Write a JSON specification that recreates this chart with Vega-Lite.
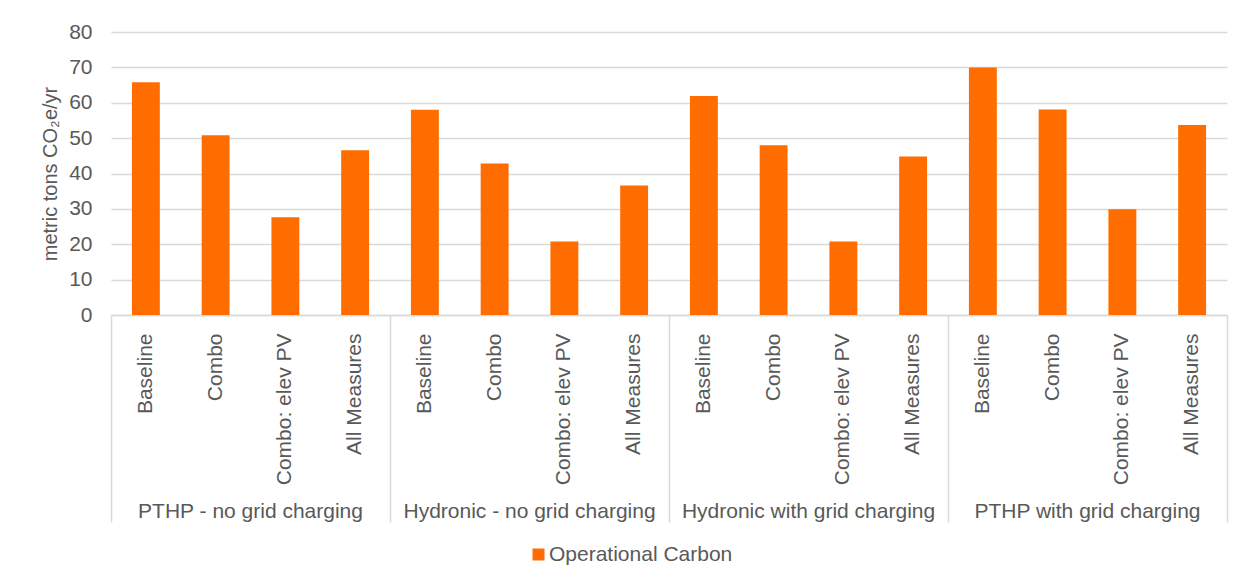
{
  "$schema": "https://vega.github.io/schema/vega-lite/v6.json",
  "width": 1116,
  "height": 283,
  "autosize": {"type": "none"},
  "padding": {"left": 111, "top": 32, "right": 22, "bottom": 269},
  "background": "white",
  "config": {
    "font": "Liberation Sans",
    "view": {"stroke": null},
    "axis": {"labelColor": "#595959", "titleColor": "#595959", "labelFontSize": 21, "labelFont": "Liberation Sans", "titleFont": "Liberation Sans", "titleFontWeight": "normal"},
    "legend": {"labelColor": "#595959", "labelFontSize": 21, "labelFont": "Liberation Sans"}
  },
  "data": {
    "values": [
      {"key": "PTHP - no grid charging|Baseline ", "value": 65.8},
      {"key": "PTHP - no grid charging|Combo", "value": 50.8},
      {"key": "PTHP - no grid charging|Combo: elev PV", "value": 27.6},
      {"key": "PTHP - no grid charging|All Measures", "value": 46.6},
      {"key": "Hydronic - no grid charging|Baseline ", "value": 58.0},
      {"key": "Hydronic - no grid charging|Combo", "value": 42.8},
      {"key": "Hydronic - no grid charging|Combo: elev PV", "value": 20.8},
      {"key": "Hydronic - no grid charging|All Measures", "value": 36.6},
      {"key": "Hydronic with grid charging|Baseline ", "value": 61.9},
      {"key": "Hydronic with grid charging|Combo", "value": 48.0},
      {"key": "Hydronic with grid charging|Combo: elev PV", "value": 20.8},
      {"key": "Hydronic with grid charging|All Measures", "value": 44.8},
      {"key": "PTHP with grid charging|Baseline ", "value": 70.0},
      {"key": "PTHP with grid charging|Combo", "value": 58.1},
      {"key": "PTHP with grid charging|Combo: elev PV", "value": 29.9},
      {"key": "PTHP with grid charging|All Measures", "value": 53.7}
    ]
  },
  "resolve": {"axis": {"x": "independent"}},
  "layer": [
    {
      "mark": {"type": "bar", "width": {"band": 0.4}, "color": "#FF6D00"},
      "encoding": {
        "x": {
          "field": "key", "type": "nominal", "sort": null,
          "scale": {"paddingInner": 0, "paddingOuter": 0},
          "axis": {
            "orient": "bottom", "title": null, "labelAngle": -90, "labelPadding": 18,
            "ticks": false, "tickSize": 0, "labelLimit": 0,
            "domainColor": "#D9D9D9", "domainWidth": 1.5,
            "labelExpr": "split(datum.label, '|')[1]"
          }
        },
        "y": {
          "field": "value", "type": "quantitative",
          "scale": {"domain": [0, 80]},
          "axis": {
            "title": "metric tons CO₂e/yr", "titleFontSize": 20, "titlePadding": 8,
            "values": [0, 10, 20, 30, 40, 50, 60, 70, 80],
            "ticks": false, "tickSize": 0, "labelPadding": 19, "domain": false,
            "gridColor": "#D9D9D9", "gridWidth": 1.5
          }
        },
        "color": {
          "datum": "Operational Carbon",
          "scale": {"range": ["#FF6D00"]},
          "legend": {
            "title": null, "orient": "none", "legendX": 417, "legendY": 512,
            "symbolType": "square", "symbolSize": 144, "symbolStrokeWidth": 0,
            "labelOffset": 0, "padding": 0, "labelLimit": 0
          }
        }
      }
    },
    {
      "mark": {"type": "rule", "opacity": 0},
      "encoding": {
        "x": {
          "field": "key", "type": "nominal", "sort": null,
          "axis": {
            "orient": "bottom", "title": null, "domain": false, "ticks": false,
            "labelAngle": 0, "labelAlign": "center", "labelFlush": false,
            "labelBaseline": "alphabetic", "labelPadding": 202, "labelLimit": 0,
            "labelOffset": 34.9,
            "values": ["PTHP - no grid charging|Combo", "Hydronic - no grid charging|Combo", "Hydronic with grid charging|Combo", "PTHP with grid charging|Combo"],
            "labelExpr": "split(datum.label, '|')[0]"
          }
        }
      }
    },
    {
      "mark": {"type": "rule", "opacity": 0},
      "encoding": {
        "x": {
          "field": "key", "type": "nominal", "sort": null,
          "axis": {
            "orient": "bottom", "title": null, "domain": false, "labels": false,
            "ticks": true, "tickSize": 207, "tickColor": "#D9D9D9", "tickWidth": 1.5,
            "bandPosition": 0,
            "values": ["PTHP - no grid charging|Baseline ", "Hydronic - no grid charging|Baseline ", "Hydronic with grid charging|Baseline ", "PTHP with grid charging|Baseline "]
          }
        }
      }
    },
    {
      "mark": {"type": "rule", "opacity": 0},
      "encoding": {
        "x": {
          "field": "key", "type": "nominal", "sort": null,
          "axis": {
            "orient": "bottom", "title": null, "domain": false, "labels": false,
            "ticks": true, "tickSize": 207, "tickColor": "#D9D9D9", "tickWidth": 1.5,
            "bandPosition": 1,
            "values": ["PTHP with grid charging|All Measures"]
          }
        }
      }
    }
  ]
}
